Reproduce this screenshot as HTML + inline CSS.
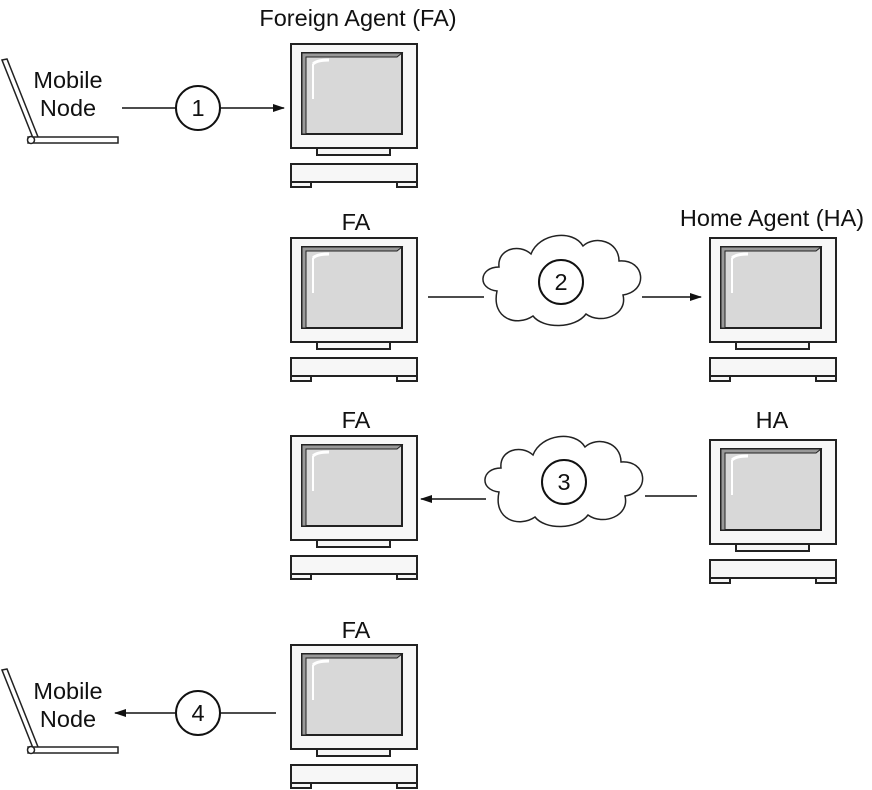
<!DOCTYPE html>
<html><head><style>body{margin:0;background:#fff}svg{display:block}text{font-family:"Liberation Sans",sans-serif;font-size:23.5px;fill:#111}</style></head><body>
<svg width="872" height="790" viewBox="0 0 872 790" xmlns="http://www.w3.org/2000/svg">
<defs>
<marker id="a" markerWidth="12" markerHeight="10" refX="11" refY="5" orient="auto" markerUnits="userSpaceOnUse"><path d="M0,1 L12,5 L0,9 Z" fill="#111"/></marker>
<g id="pc" stroke="#222" stroke-width="2" fill="#f7f7f7">
<rect x="0" y="0" width="126" height="104"/>
<rect x="11" y="9" width="100" height="81" fill="#d8d8d8"/>
<path d="M11,9 L111,9 L106,13 L15,13 L15,90 L11,90Z" fill="#999" stroke-width="1"/>
<path d="M22,20 Q26,16 38,16" stroke="#fff" stroke-width="3" fill="none"/>
<path d="M22,20 L22,55" stroke="#fff" stroke-width="2" fill="none"/>
<rect x="26" y="104" width="73" height="7"/>
<rect x="0" y="120" width="126" height="18"/>
<rect x="0" y="138" width="20" height="5"/>
<rect x="106" y="138" width="20" height="5"/>
</g>
<g id="cl"><path d="M18,62 C-2,60 0,38 20,38 C18,20 40,14 52,25 C60,4 94,0 104,17 C116,6 140,12 140,32 C166,30 170,62 144,66 C149,86 122,96 107,85 C96,100 64,100 54,87 C38,98 12,90 18,62Z" fill="#fff" stroke="#222" stroke-width="1.5"/></g>
<g id="lt" stroke="#222" stroke-width="1.5" fill="#fff"><path d="M0,0 L5,-1 L36,77 L31,78Z"/><rect x="26" y="77" width="90" height="6"/><circle cx="29" cy="80" r="3.5"/></g>
</defs>
<text x="358" y="26" text-anchor="middle">Foreign Agent (FA)</text>
<use href="#lt" x="2" y="60"/>
<text x="68" y="88" text-anchor="middle">Mobile</text><text x="68" y="116" text-anchor="middle">Node</text>
<line x1="122" y1="108" x2="176" y2="108" stroke="#111" stroke-width="1.5"/>
<circle cx="198" cy="108" r="22" fill="#fff" stroke="#111" stroke-width="2"/><text x="198" y="116" text-anchor="middle">1</text>
<line x1="220" y1="108" x2="284" y2="108" stroke="#111" stroke-width="1.5" marker-end="url(#a)"/>
<use href="#pc" x="291" y="44"/>

<text x="356" y="230" text-anchor="middle">FA</text>
<text x="772" y="226" text-anchor="middle">Home Agent (HA)</text>
<use href="#pc" x="291" y="238"/>
<use href="#pc" x="710" y="238"/>
<line x1="428" y1="297" x2="484" y2="297" stroke="#111" stroke-width="1.5"/>
<use href="#cl" x="479" y="229"/>
<circle cx="561" cy="282" r="22" fill="#fff" stroke="#111" stroke-width="2"/><text x="561" y="290" text-anchor="middle">2</text>
<line x1="642" y1="297" x2="701" y2="297" stroke="#111" stroke-width="1.5" marker-end="url(#a)"/>

<text x="356" y="428" text-anchor="middle">FA</text>
<text x="772" y="428" text-anchor="middle">HA</text>
<use href="#pc" x="291" y="436"/>
<use href="#pc" x="710" y="440"/>
<line x1="486" y1="499" x2="421" y2="499" stroke="#111" stroke-width="1.5" marker-end="url(#a)"/>
<use href="#cl" x="481" y="430"/>
<circle cx="564" cy="482" r="22" fill="#fff" stroke="#111" stroke-width="2"/><text x="564" y="490" text-anchor="middle">3</text>
<line x1="645" y1="496" x2="697" y2="496" stroke="#111" stroke-width="1.5"/>

<text x="356" y="638" text-anchor="middle">FA</text>
<use href="#pc" x="291" y="645"/>
<use href="#lt" x="2" y="670"/>
<text x="68" y="699" text-anchor="middle">Mobile</text><text x="68" y="727" text-anchor="middle">Node</text>
<line x1="176" y1="713" x2="115" y2="713" stroke="#111" stroke-width="1.5" marker-end="url(#a)"/>
<circle cx="198" cy="713" r="22" fill="#fff" stroke="#111" stroke-width="2"/><text x="198" y="721" text-anchor="middle">4</text>
<line x1="220" y1="713" x2="276" y2="713" stroke="#111" stroke-width="1.5"/>
</svg>
</body></html>
